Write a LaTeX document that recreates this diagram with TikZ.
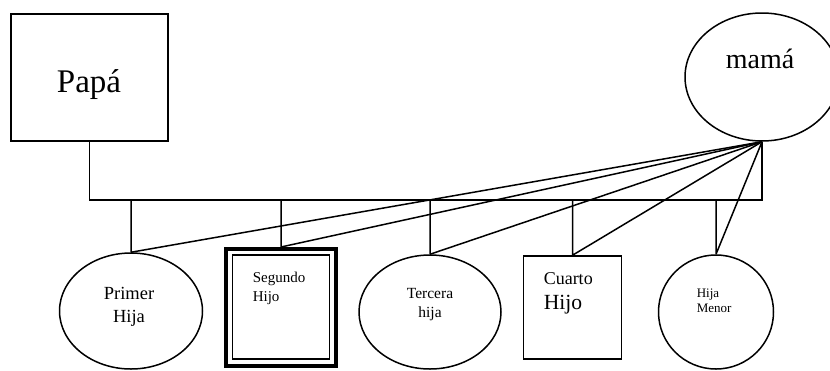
\documentclass[tikz,border=0pt]{standalone}
\usepackage{fontspec}
\setmainfont{Liberation Serif}
\usetikzlibrary{shapes.geometric}

\begin{document}
\begin{tikzpicture}[x=1pt,y=-1pt,line width=1.5pt,
  caja/.style={draw,rectangle,inner sep=0pt},
  ovalo/.style={draw,ellipse,inner sep=0pt},
  texto/.style={inner sep=0pt,anchor=base}]
\useasboundingbox (0,0) rectangle (830,370);
\node[caja,minimum width=157pt,minimum height=127pt] (papa) at (89.5,77.5) {};
\node[texto,font=\fontsize{33}{40}\selectfont] (tpapa) at (89,92) {Papá};
\node[ovalo,minimum width=154pt,minimum height=128pt] (mama) at (762,77) {};
\node[texto,font=\fontsize{28}{34}\selectfont] (tmama) at (760,68) {mamá};
\coordinate (barra) at (0,200);
\node[ovalo,minimum width=143pt,minimum height=116pt] (primera) at (131,311) {};
\node[texto,align=center,font=\fontsize{18.5}{23}\selectfont] (tprimera) at (129,322) {Primer\\Hija};
\node[caja,line width=4pt,minimum width=110pt,minimum height=117pt] (segundo) at (281,307.5) {};
\node[caja,line width=1.5pt,minimum width=97pt,minimum height=104pt] (segundoin) at (281,307) {};
\node[texto,anchor=base west,align=left,font=\fontsize{15}{19}\selectfont] (tsegundo) at (252,301) {Segundo\\Hijo};
\node[ovalo,minimum width=142pt,minimum height=114pt] (tercera) at (430,312) {};
\node[texto,align=center,font=\fontsize{15.5}{19}\selectfont] (ttercera) at (430,317) {Tercera\\hija};
\node[caja,minimum width=98pt,minimum height=103pt] (cuarto) at (572.5,307.5) {};
\node[texto,anchor=base west,align=left,font=\fontsize{18}{25}\selectfont] (tcuarto) at (543,309) {Cuarto\\{\fontsize{21.6}{25}\selectfont Hijo}};
\node[ovalo,minimum width=115pt,minimum height=114pt] (menor) at (716,312) {};
\node[texto,anchor=base west,align=left,font=\fontsize{13}{15}\selectfont] (tmenor) at (696,312) {Hija\\Menor};
\draw (papa.south) -- (papa.south |- barra) -- (mama.south |- barra) -- (mama.south);
\foreach \h in {primera,segundo,tercera,cuarto,menor}
  \draw (\h.north) -- (\h.north |- barra) (mama.south) -- (\h.north);
\end{tikzpicture}
\end{document}
